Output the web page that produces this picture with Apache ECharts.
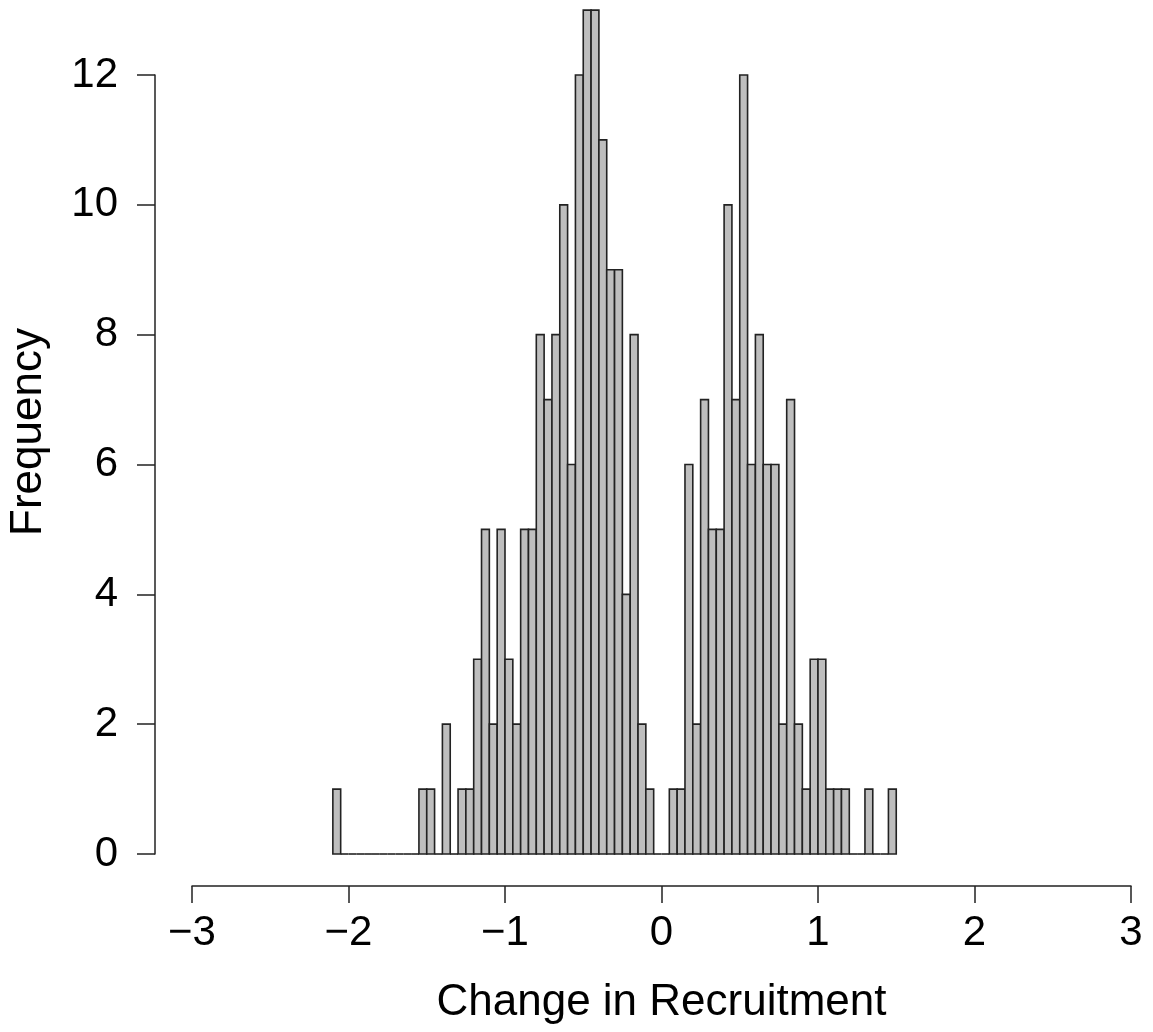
<!DOCTYPE html>
<html>
<head>
<meta charset="utf-8">
<title>Change in Recruitment</title>
<script src="https://cdn.jsdelivr.net/npm/echarts@6/dist/echarts.min.js"></script>
<style>
  html, body { margin: 0; padding: 0; background: #fff; }
  #chart { width: 1153px; height: 1032px; }
</style>
</head>
<body>
<div id="chart"></div>
<script>
// Histogram bins: left edge of the first bin and the common bin width
const binStart = -2.1;
const binWidth = 0.05;

// Frequency in each bin, left to right
const counts = [
  1, 0, 0, 0, 0, 0, 0, 0, 0, 0,
  0, 1, 1, 0, 2, 0, 1, 1, 3, 5,
  2, 5, 3, 2, 5, 5, 8, 7, 8, 10,
  6, 12, 13, 13, 11, 9, 9, 4, 8, 2,
  1, 0, 0, 1, 1, 6, 2, 7, 5, 5,
  10, 7, 12, 6, 8, 6, 6, 2, 7, 2,
  1, 3, 3, 1, 1, 1, 0, 0, 1, 0,
  0, 1
];

// Axis ticks
const xTicks = [-3, -2, -1, 0, 1, 2, 3];
const yTicks = [0, 2, 4, 6, 8, 10, 12];

const FONT = "'Liberation Sans', Arial, Helvetica, sans-serif";
const INK = '#222';

const binData = counts.map((c, i) => [binStart + i * binWidth, binStart + (i + 1) * binWidth, c]);

function minusFmt(v) {
  return v < 0 ? '\u2212' + Math.abs(v) : String(v);
}

const chart = echarts.init(document.getElementById('chart'), null, { renderer: 'canvas' });

chart.setOption({
  backgroundColor: '#ffffff',
  animation: false,
  grid: { left: 192, right: 22, top: 75, bottom: 178, containLabel: false },
  // y-axis title, centred on the full plotting region (which runs past the 12 tick)
  graphic: [{
    type: 'text',
    x: 29,
    y: 432,
    rotation: Math.PI / 2,
    style: {
      text: 'Frequency',
      font: "44px 'Liberation Sans', Arial, Helvetica, sans-serif",
      fill: '#000',
      textAlign: 'center',
      textVerticalAlign: 'middle'
    }
  }],
  xAxis: {
    type: 'value',
    min: xTicks[0],
    max: xTicks[xTicks.length - 1],
    interval: 1,
    offset: 32,
    splitLine: { show: false },
    axisLine: { show: true, onZero: false, lineStyle: { color: INK, width: 1.5 } },
    axisTick: { show: true, length: 17, lineStyle: { color: INK, width: 1.5 } },
    axisLabel: {
      margin: 26,
      fontSize: 42,
      fontFamily: FONT,
      color: '#000',
      formatter: minusFmt
    },
    name: 'Change in Recruitment',
    nameLocation: 'middle',
    nameGap: 95,
    nameTextStyle: { fontSize: 44, fontFamily: FONT, color: '#000' }
  },
  yAxis: {
    type: 'value',
    min: yTicks[0],
    max: yTicks[yTicks.length - 1],
    interval: 2,
    offset: 37,
    splitLine: { show: false },
    axisLine: { show: true, onZero: false, lineStyle: { color: INK, width: 1.5 } },
    axisTick: { show: true, length: 18, lineStyle: { color: INK, width: 1.5 } },
    axisLabel: {
      margin: 37,
      fontSize: 42,
      fontFamily: FONT,
      color: '#000'
    }
  },
  series: [{
    type: 'custom',
    clip: false,
    data: binData,
    encode: { x: [0, 1], y: 2 },
    renderItem: function (params, api) {
      const x0 = api.value(0), x1 = api.value(1), c = api.value(2);
      const p0 = api.coord([x0, 0]);
      const p1 = api.coord([x1, c]);
      if (c === 0) {
        return {
          type: 'line',
          shape: { x1: p0[0], y1: p0[1], x2: p1[0], y2: p0[1] },
          style: { stroke: INK, lineWidth: 1.6 }
        };
      }
      return {
        type: 'rect',
        shape: { x: p0[0], y: p1[1], width: p1[0] - p0[0], height: p0[1] - p1[1] },
        style: { fill: '#bebebe', stroke: INK, lineWidth: 1.6 }
      };
    }
  }]
});
</script>
</body>
</html>
